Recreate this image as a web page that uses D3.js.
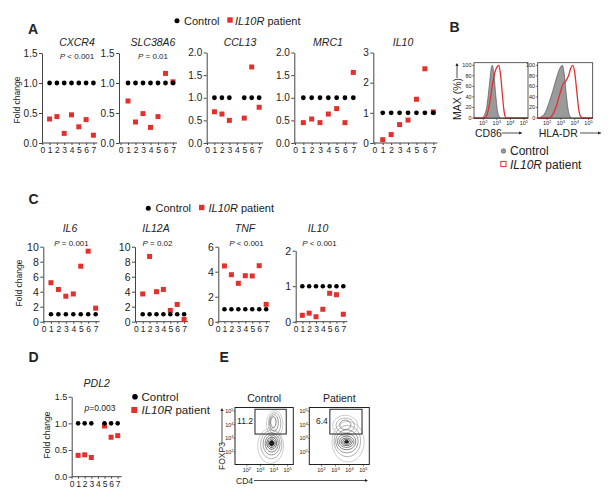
<!DOCTYPE html>
<html><head><meta charset="utf-8">
<script src="https://cdn.jsdelivr.net/npm/d3@7"></script>
<style>
body{margin:0;background:#fff}
svg{display:block}
text{font-family:"Liberation Sans",Arial,Helvetica,sans-serif;fill:#222}
</style>
</head><body>
<svg id="chart" width="614" height="498"></svg>
<script>
// ---------------- DATA ----------------
const xTickVals = [0,1,2,3,4,5,6,7];
const sampleIdx = [1,2,3,4,5,6,7];

// Panel A
const genesA = ["CXCR4","SLC38A6","CCL13","MRC1","IL10"];
const pLabelsA = ["P < 0.001","P = 0.01","","",""];
const ctrlCXCR4 = [1,1,1,1,1,1,1];
const patCXCR4  = [0.40,0.44,0.16,0.47,0.27,0.39,0.13];
const ctrlSLC38A6 = [1,1,1,1,1,1,1];
const patSLC38A6  = [0.70,0.35,0.49,0.26,0.44,1.16,1.02];
const ctrlCCL13 = [1,1,1,null,1,1,1];
const patCCL13  = [0.69,0.64,0.50,null,0.55,1.68,0.79];
const ctrlMRC1 = [1,1,1,1,1,1,1];
const patMRC1  = [0.45,0.53,0.45,0.64,0.76,0.45,1.56];
const ctrlIL10a = [1,1,1,1,1,1,1];
const patIL10a  = [0.11,0.28,0.61,0.76,1.45,2.46,1.03];
const yMaxA = [1.5,1.5,2,2,3];
const yTicksA = [[0,0.5,1,1.5],[0,0.5,1,1.5],[0,0.5,1,1.5,2],[0,0.5,1,1.5,2],[0,1,2,3]];

// Panel C
const genesC = ["IL6","IL12A","TNF","IL10"];
const pLabelsC = ["P = 0.001","P = 0.02","P < 0.001","P < 0.001"];
const ctrlIL6 = [1,1,1,1,1,1,1];
const patIL6  = [5.2,4.3,3.4,3.7,7.4,9.4,1.8];
const ctrlIL12A = [1,1,1,1,1,1,1];
const patIL12A  = [3.7,8.7,4.0,4.3,1.5,2.3,0.3];
const ctrlTNF = [1,1,1,1,1,1,1];
const patTNF  = [4.46,3.76,3.07,3.68,3.66,4.48,1.39];
const ctrlIL10c = [1,1,1,1,1,1,1];
const patIL10c  = [0.18,0.24,0.14,0.35,0.80,0.76,0.21];
const yMaxC = [10,10,6,2];
const yTicksC = [[0,2,4,6,8,10],[0,2,4,6,8,10],[0,2,4,6],[0,1,2]];

// Panel D
const ctrlPDL2 = [1,1,1,null,1,1,1];
const patPDL2  = [0.40,0.41,0.36,null,0.95,0.74,0.77];
const yTicksD = [0,0.5,1,1.5];

// Panel B histograms: [log10 intensity, % of max]
const histTicksB = [2,3,4,5];
const histYTicks = [0,20,40,60,80,100];
const cd86Ctrl = [[1.32,0],[1.85,0],[2.05,4],[2.25,20],[2.45,62],[2.6,96],[2.67,100],[2.78,86],[2.92,45],[3.05,14],[3.2,2],[3.3,0],[5.3,0]];
const cd86Pat  = [[1.32,0],[2.1,0],[2.3,8],[2.5,32],[2.7,66],[2.9,90],[3.02,97],[3.15,100],[3.27,84],[3.4,48],[3.52,16],[3.62,3],[3.72,0],[5.3,0]];
const hladrCtrl = [[1.32,0],[1.55,2],[1.85,10],[2.15,30],[2.45,55],[2.7,78],[2.9,93],[3.1,100],[3.25,82],[3.4,42],[3.55,12],[3.7,2],[3.85,0],[5.3,0]];
const hladrPat  = [[1.32,0],[2.1,0],[2.4,6],[2.7,25],[2.95,48],[3.15,64],[3.35,70],[3.55,80],[3.72,95],[3.86,100],[4.0,86],[4.15,50],[4.3,15],[4.45,2],[4.6,0],[5.3,0]];

// Panel E flow contours: [cx, cy, rx, ry] in log10 units (CD4, FOXP3)
const flowTicks = [2,3,4,5];
const contoursCtrl = [[3.75,2.45,0.95,1.3],[4.05,4.05,0.6,1.0],[3.8,2.55,0.78,1.05],[4.05,4.1,0.45,0.8],[3.82,2.6,0.62,0.82],[4.0,4.15,0.32,0.6],[3.83,2.62,0.48,0.62],[3.95,4.2,0.2,0.4],[3.83,2.64,0.36,0.45],[3.83,2.64,0.26,0.32],[3.83,2.64,0.17,0.2],[3.83,2.64,0.09,0.1]];
const levelsCtrl = [0,0,1,1,2,2,3,3,4,4,5,5];
const contoursPat = [[3.9,2.75,1.15,1.5],[3.7,3.95,0.9,0.75],[3.85,2.8,0.95,1.15],[3.7,3.95,0.65,0.55],[3.82,2.78,0.8,0.85],[3.7,4.0,0.4,0.35],[3.8,2.76,0.65,0.6],[3.8,2.75,0.52,0.42],[3.8,2.75,0.4,0.28],[3.8,2.75,0.28,0.18],[3.8,2.75,0.16,0.1]];
const levelsPat = [0,0,1,1,2,2,3,3,4,4,5];
const gateE = [2.6,4.9,3.32,5.15];
const gatePct = ["11.2","6.4"];

// ---------------- DRAWING ----------------
const svg = d3.select("#chart");
svg.append("rect").attr("width",614).attr("height",498).attr("fill","#fff");
const RED = "#e2312d";
const AX = "#444";

function panelLetter(t,x,y){
  svg.append("text").attr("x",x).attr("y",y).attr("font-size",14).attr("font-weight","bold").attr("fill","#111").text(t);
}
function italicLabel(g,x,y,size,anchor,italicPart,rest){
  const t = g.append("text").attr("x",x).attr("y",y).attr("font-size",size).attr("text-anchor",anchor);
  t.append("tspan").attr("font-style","italic").text(italicPart);
  if(rest) t.append("tspan").text(rest);
  return t;
}

function dotPlot(cfg){
  const g = svg.append("g");
  const x = d3.scaleLinear().domain([0,7]).range([cfg.x0, cfg.x0+7*cfg.sp]);
  const y = d3.scaleLinear().domain([0,cfg.ymax]).range([cfg.yb, cfg.yt]);
  const ya = g.append("g").attr("transform",`translate(${cfg.ax},0)`)
    .call(d3.axisLeft(y).tickValues(cfg.yticks).tickFormat(cfg.fmt).tickSize(3).tickSizeOuter(0).tickPadding(1.5));
  ya.selectAll("text").attr("font-size",cfg.tfs).attr("fill","#333").attr("font-family",null);
  ya.selectAll("line,path").attr("stroke",AX);
  const xa = g.append("g").attr("transform",`translate(0,${cfg.yb})`)
    .call(d3.axisBottom(x).tickValues(xTickVals).tickFormat(d3.format("d")).tickSize(2).tickSizeOuter(0).tickPadding(2));
  xa.select(".domain").remove();
  xa.selectAll("line").attr("stroke",AX);
  xa.selectAll("text").attr("font-size",cfg.xfs).attr("fill","#333").attr("font-family",null);
  g.append("line").attr("x1",cfg.ax).attr("x2",x(7)+4).attr("y1",cfg.yb).attr("y2",cfg.yb).attr("stroke",AX);
  const s = cfg.sq;
  g.selectAll("rect.pat").data(sampleIdx.map((d,i)=>[d,cfg.pat[i]]).filter(d=>d[1]!=null))
    .join("rect").attr("class","pat")
    .attr("x",d=>x(d[0])-s/2).attr("y",d=>y(d[1])-s/2).attr("width",s).attr("height",s).attr("fill",RED);
  g.selectAll("circle.ctrl").data(sampleIdx.map((d,i)=>[d,cfg.ctrl[i]]).filter(d=>d[1]!=null))
    .join("circle").attr("class","ctrl")
    .attr("cx",d=>x(d[0])).attr("cy",d=>y(d[1])).attr("r",cfg.r).attr("fill","#000");
  italicLabel(g,cfg.tx,cfg.ty,cfg.tsz,"middle",cfg.gene);
  if(cfg.p){
    const t = g.append("text").attr("x",cfg.px).attr("y",cfg.py).attr("font-size",cfg.psz).attr("text-anchor","middle");
    t.append("tspan").attr("font-style","italic").text(cfg.p.slice(0,1));
    t.append("tspan").text(cfg.p.slice(1));
  }
}
function foldLabel(x,y){
  svg.append("text").attr("transform",`translate(${x},${y}) rotate(-90)`).attr("text-anchor","middle")
    .attr("font-size",8.5).text("Fold change");
}

// ---- Panel A ----
panelLetter("A",28,34);
const ctrlA = [ctrlCXCR4,ctrlSLC38A6,ctrlCCL13,ctrlMRC1,ctrlIL10a];
const patA = [patCXCR4,patSLC38A6,patCCL13,patMRC1,patIL10a];
const layA = [{ax:42,x0:42.3,sp:7.3,tx:77},{ax:119,x0:120.5,sp:7.5,tx:153},{ax:206.7,x0:207,sp:7.45,tx:240},{ax:294.3,x0:295,sp:8.33,tx:328},{ax:373.3,x0:374.3,sp:8.43,tx:403}];
genesA.forEach((gname,i)=>{
  dotPlot({gene:gname,ctrl:ctrlA[i],pat:patA[i],p:pLabelsA[i],ymax:yMaxA[i],yticks:yTicksA[i],
    fmt:i<4?d3.format(".1f"):d3.format("d"),ax:layA[i].ax,x0:layA[i].x0,sp:layA[i].sp,yb:143,yt:i<2?53:52.5,
    tx:layA[i].tx,ty:45.5,tsz:10.5,px:layA[i].tx,py:58.5,psz:8,tfs:10,xfs:8.5,sq:5,r:2.4});
});
foldLabel(19.5,100);
svg.append("circle").attr("cx",177).attr("cy",20.7).attr("r",2.5).attr("fill","#000");
svg.append("text").attr("x",184).attr("y",24.6).attr("font-size",11).text("Control");
svg.append("rect").attr("x",227.3).attr("y",17.3).attr("width",5.4).attr("height",5.4).attr("fill",RED);
italicLabel(svg,235,24.6,11,"start","IL10R"," patient");

// ---- Panel B ----
panelLetter("B",449.5,31.7);
function hist(cfg){
  const g = svg.append("g");
  const x = d3.scaleLinear().domain([1.32,5.3]).range([cfg.x1,cfg.x2]);
  const y = d3.scaleLinear().domain([0,100]).range([118,65.3]);
  const area = d3.area().x(d=>x(d[0])).y0(y(0)).y1(d=>y(d[1])).curve(d3.curveMonotoneX);
  const line = d3.line().x(d=>x(d[0])).y(d=>y(d[1])).curve(d3.curveMonotoneX);
  g.append("path").datum(cfg.ctrl).attr("d",area).attr("fill","#9a9a9a").attr("stroke","#444").attr("stroke-width",0.6);
  g.append("path").datum(cfg.pat).attr("d",line).attr("fill","none").attr("stroke",RED).attr("stroke-width",1.3);
  g.append("rect").attr("x",cfg.x1).attr("y",62.7).attr("width",cfg.x2-cfg.x1).attr("height",55.6).attr("fill","none").attr("stroke","#333").attr("stroke-width",0.8);
  histYTicks.forEach(v=>{
    g.append("line").attr("x1",cfg.x1-2).attr("x2",cfg.x1).attr("y1",y(v)).attr("y2",y(v)).attr("stroke","#333").attr("stroke-width",0.6);
    g.append("text").attr("x",cfg.x1-2.5).attr("y",y(v)+2).attr("font-size",5.5).attr("text-anchor","end").text(v);
  });
  histTicksB.forEach(v=>{
    g.append("line").attr("x1",x(v)).attr("x2",x(v)).attr("y1",118.3).attr("y2",120.3).attr("stroke","#333").attr("stroke-width",0.6);
    const t = g.append("text").attr("x",x(v)).attr("y",125).attr("font-size",5.5).attr("text-anchor","middle");
    t.append("tspan").text("10");
    t.append("tspan").attr("dy",-2).attr("font-size",4).text(v);
  });
  g.append("text").attr("x",cfg.x1+1).attr("y",136.5).attr("font-size",10.5).text(cfg.label);
  g.append("line").attr("x1",cfg.ax1).attr("x2",cfg.ax2).attr("y1",133).attr("y2",133).attr("stroke","#222").attr("stroke-width",0.8);
  g.append("path").attr("d",`M${cfg.ax2},133 l-3,-1.6 l0,3.2 z`).attr("fill","#222");
}
hist({x1:474,x2:528,ctrl:cd86Ctrl,pat:cd86Pat,label:"CD86",ax1:502,ax2:522});
hist({x1:537.7,x2:592.7,ctrl:hladrCtrl,pat:hladrPat,label:"HLA-DR",ax1:580,ax2:601});
svg.append("text").attr("transform","translate(460.5,99) rotate(-90)").attr("text-anchor","middle").attr("font-size",10.5).text("MAX (%)");
svg.append("line").attr("x1",457).attr("x2",457).attr("y1",78).attr("y2",64).attr("stroke","#222").attr("stroke-width",0.8);
svg.append("path").attr("d","M457,63 l-1.6,3 l3.2,0 z").attr("fill","#222");
svg.append("circle").attr("cx",503.5).attr("cy",151).attr("r",2.3).attr("fill","#9a9a9a").attr("stroke","#555").attr("stroke-width",0.6);
svg.append("text").attr("x",510).attr("y",155.3).attr("font-size",12).text("Control");
svg.append("rect").attr("x",500.8).attr("y",161.4).attr("width",5.2).attr("height",5.2).attr("fill","none").attr("stroke",RED).attr("stroke-width",1);
italicLabel(svg,510,168.5,12,"start","IL10R"," patient");

// ---- Panel C ----
panelLetter("C",28.5,204);
const ctrlC = [ctrlIL6,ctrlIL12A,ctrlTNF,ctrlIL10c];
const patC = [patIL6,patIL12A,patTNF,patIL10c];
const layC = [{ax:43.3,x0:43.5,sp:7.45,tx:70,yt:246.7},{ax:135,x0:135.8,sp:6.9,tx:156,yt:246.7},{ax:218.3,x0:217.5,sp:6.95,tx:245,yt:246.7},{ax:295.7,x0:295.5,sp:6.83,tx:318,yt:250.7}];
genesC.forEach((gname,i)=>{
  dotPlot({gene:gname,ctrl:ctrlC[i],pat:patC[i],p:pLabelsC[i],ymax:yMaxC[i],yticks:yTicksC[i],
    fmt:d3.format("d"),ax:layC[i].ax,x0:layC[i].x0,sp:layC[i].sp,yb:321.7,yt:layC[i].yt,
    tx:layC[i].tx,ty:231.5,tsz:10.5,px:layC[i].tx+1.5,py:246,psz:8,tfs:10.5,xfs:8.5,sq:5,r:2.3});
});
foldLabel(22,283);
svg.append("circle").attr("cx",148.3).attr("cy",208.3).attr("r",2.5).attr("fill","#000");
svg.append("text").attr("x",155.5).attr("y",212.2).attr("font-size",11).text("Control");
svg.append("rect").attr("x",199).attr("y",204.8).attr("width",5.4).attr("height",5.4).attr("fill",RED);
italicLabel(svg,208.5,212.2,11,"start","IL10R"," patient");

// ---- Panel D ----
panelLetter("D",28.5,361.7);
dotPlot({gene:"PDL2",ctrl:ctrlPDL2,pat:patPDL2,p:null,ymax:1.5,yticks:yTicksD,fmt:d3.format(".1f"),
  ax:71.7,x0:71.5,sp:6.6,yb:476.7,yt:396.7,tx:96.7,ty:387,tsz:10.5,tfs:9,xfs:8.5,sq:5,r:2.3});
{
  const t = svg.append("text").attr("x",100).attr("y",410.5).attr("font-size",8.5).attr("text-anchor","middle");
  t.append("tspan").attr("font-style","italic").text("p");
  t.append("tspan").text("=0.003");
}
foldLabel(49.5,435);
svg.append("circle").attr("cx",135).attr("cy",396.7).attr("r",2.8).attr("fill","#000");
svg.append("text").attr("x",141.5).attr("y",400.8).attr("font-size",11.5).text("Control");
svg.append("rect").attr("x",131.3).attr("y",407).attr("width",6).attr("height",6).attr("fill",RED);
italicLabel(svg,141.5,414.2,11.5,"start","IL10R"," patient");

// ---- Panel E ----
panelLetter("E",219.5,361.7);
const grayLv = ["#bbb","#999","#777","#555","#333","#111"];
function flow(cfg){
  const g = svg.append("g");
  const x = d3.scaleLinear().domain([1.13,5.42]).range([cfg.x1,cfg.x2]);
  const y = d3.scaleLinear().domain([1.07,5.28]).range([464.5,407.5]);
  const line = d3.line().x(d=>x(d[0])).y(d=>y(d[1])).curve(d3.curveCardinalClosed);
  const ang = d3.range(0,360,20).map(a=>a*Math.PI/180);
  cfg.cont.forEach((c,i)=>{
    const pts = ang.map(a=>[c[0]+c[2]*Math.cos(a), c[1]+c[3]*Math.sin(a)]);
    g.append("path").attr("d",line(pts)).attr("fill", cfg.lv[i]===5 ? "#222" : "none")
      .attr("stroke",grayLv[cfg.lv[i]]).attr("stroke-width",0.75);
  });
  g.append("rect").attr("x",cfg.x1).attr("y",407.5).attr("width",cfg.x2-cfg.x1).attr("height",57).attr("fill","none").attr("stroke","#222").attr("stroke-width",1);
  g.append("rect").attr("x",x(gateE[0])).attr("y",y(gateE[3])).attr("width",x(gateE[1])-x(gateE[0])).attr("height",y(gateE[2])-y(gateE[3]))
    .attr("fill","none").attr("stroke","#222").attr("stroke-width",1);
  g.append("text").attr("x",x(gateE[0])-2).attr("y",y(4.3)+3).attr("font-size",8.5).attr("text-anchor","end").text(cfg.pct);
  flowTicks.forEach(v=>{
    const t = g.append("text").attr("x",x(v)).attr("y",472).attr("font-size",5.5).attr("text-anchor","middle");
    t.append("tspan").text("10"); t.append("tspan").attr("dy",-2).attr("font-size",4).text(v);
    const u = g.append("text").attr("x",cfg.x1-1.5).attr("y",y(v)+2).attr("font-size",5.5).attr("text-anchor","end");
    u.append("tspan").text("10"); u.append("tspan").attr("dy",-2).attr("font-size",4).text(v);
    g.append("line").attr("x1",x(v)).attr("x2",x(v)).attr("y1",464.5).attr("y2",466.5).attr("stroke","#222").attr("stroke-width",0.6);
    g.append("line").attr("x1",cfg.x1-1.5).attr("x2",cfg.x1).attr("y1",y(v)).attr("y2",y(v)).attr("stroke","#222").attr("stroke-width",0.6);
  });
  g.append("text").attr("x",(cfg.x1+cfg.x2)/2).attr("y",402).attr("font-size",10.5).attr("text-anchor","middle").text(cfg.title);
}
flow({x1:235,x2:293.3,cont:contoursCtrl,lv:levelsCtrl,pct:gatePct[0],title:"Control"});
flow({x1:309.3,x2:369.3,cont:contoursPat,lv:levelsPat,pct:gatePct[1],title:"Patient"});
svg.append("text").attr("transform","translate(225,456) rotate(-90)").attr("text-anchor","middle").attr("font-size",8.5).text("FOXP3");
svg.append("line").attr("x1",222).attr("x2",222).attr("y1",443).attr("y2",410).attr("stroke","#222").attr("stroke-width",0.8);
svg.append("path").attr("d","M222,408 l-1.6,3 l3.2,0 z").attr("fill","#222");
svg.append("text").attr("x",236).attr("y",483.5).attr("font-size",8.5).text("CD4");
svg.append("line").attr("x1",254).attr("x2",365).attr("y1",480.5).attr("y2",480.5).attr("stroke","#222").attr("stroke-width",0.8);
svg.append("path").attr("d","M368,480.5 l-3,-1.6 l0,3.2 z").attr("fill","#222");
</script>
</body></html>
